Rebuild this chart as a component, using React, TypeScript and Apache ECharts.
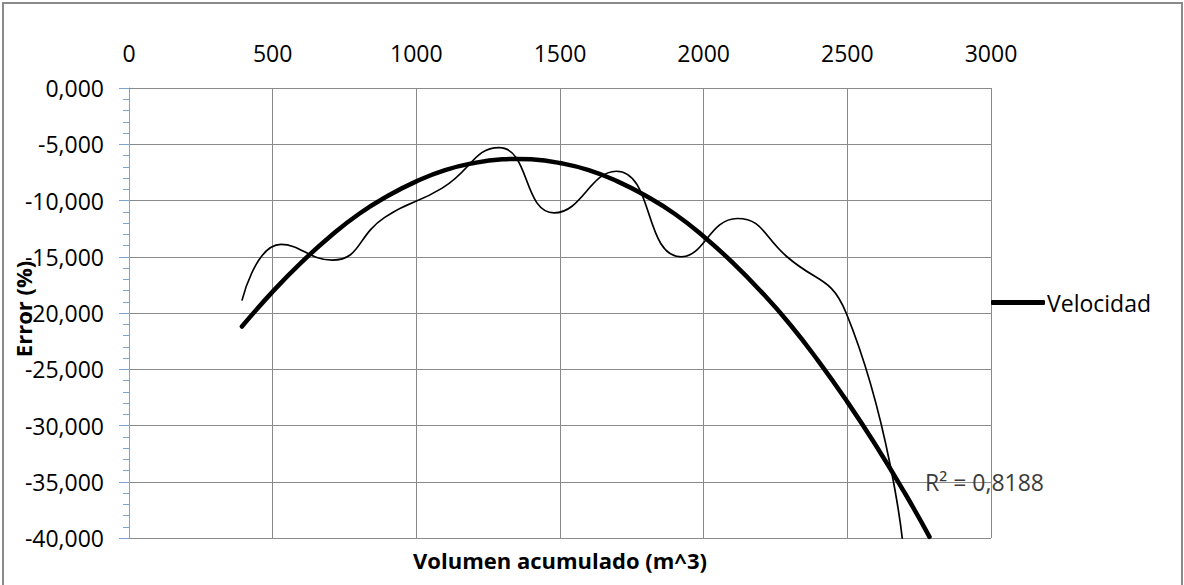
import React, { useEffect, useRef } from 'react';
import * as echarts from 'echarts';

// Measured series "Velocidad" (volumen acumulado m^3, error %)
const volumen = [393, 529, 707, 890, 1090, 1288, 1480, 1696, 1922, 2117, 2290, 2496, 2692];
const errorPct = [-18.9, -13.9, -15.3, -11.5, -8.9, -5.3, -11.1, -7.4, -15.0, -11.6, -15.0, -20.0, -40.2];

// Polynomial trend line
const trendVol = [393, 500, 600, 700, 800, 900, 1000, 1100, 1200, 1300, 1350, 1400, 1500, 1600, 1700, 1800, 1900, 2000, 2100, 2200, 2300, 2400, 2500, 2600, 2700, 2786];
const trendErr = [-21.2, -18.1, -15.5, -13.2, -11.2, -9.6, -8.3, -7.3, -6.67, -6.34, -6.3, -6.34, -6.67, -7.3, -8.3, -9.6, -11.2, -13.2, -15.5, -18.1, -21.0, -24.3, -27.9, -31.8, -36.0, -39.9];

const seriesName = 'Velocidad';
const r2Label = 'R² = 0,8188';
const xTitle = 'Volumen acumulado (m^3)';
const yTitle = 'Error (%)';

const FONT = "'Open Sans', sans-serif";

export default function App() {
  const ref = useRef<HTMLDivElement>(null);
  useEffect(() => {
    document.body.style.margin = '0';
    const chart = echarts.init(ref.current as HTMLDivElement, null, { renderer: 'svg' });
    const gray = '#8a8a8a';
    const blue = '#7ba3d6';
    chart.setOption({
      animation: false,
      backgroundColor: '#ffffff',
      textStyle: { fontFamily: FONT },
      grid: { left: 129, right: 193, top: 88, bottom: 47, containLabel: false },
      legend: {
        data: [{ name: seriesName, icon: 'roundRect' }],
        left: 991,
        top: 291,
        padding: 0,
        itemWidth: 54,
        itemHeight: 5,
        itemStyle: { color: '#000' },
        textStyle: { fontFamily: FONT, fontSize: 23, color: '#000', padding: [0, 0, 0, -3] },
      },
      xAxis: {
        type: 'value',
        position: 'top',
        min: 0,
        max: 3000,
        interval: 500,
        axisLine: { show: true, onZero: false, lineStyle: { color: gray, width: 1 } },
        axisTick: { show: false },
        axisLabel: {
          fontFamily: FONT,
          fontSize: 23,
          color: '#000',
          margin: 24,
          formatter: (v: number) => String(v),
        },
        splitLine: { show: true, lineStyle: { color: gray, width: 1 } },
      },
      yAxis: {
        type: 'value',
        min: -40,
        max: 0,
        interval: 5,
        axisLine: { show: true, onZero: false, lineStyle: { color: blue, width: 1 } },
        axisTick: { show: true, length: 10, lineStyle: { color: blue, width: 1 } },
        minorTick: { show: true, splitNumber: 5, length: 6, lineStyle: { color: blue, width: 1 } },
        axisLabel: {
          fontFamily: FONT,
          fontSize: 23,
          color: '#000',
          margin: 25,
          formatter: (v: number) => v.toFixed(3).replace('.', ','),
        },
        splitLine: { show: true, lineStyle: { color: gray, width: 1 } },
      },
      series: [
        {
          name: 'Polinómica (Velocidad)',
          type: 'line',
          smooth: true,
          symbol: 'none',
          data: trendVol.map((x, i) => [x, trendErr[i]]),
          lineStyle: { color: '#000', width: 4.5, cap: 'round' },
          itemStyle: { color: '#000' },
          z: 3,
        },
        {
          name: seriesName,
          type: 'line',
          smooth: true,
          symbol: 'none',
          data: volumen.map((x, i) => [x, errorPct[i]]),
          lineStyle: { color: '#000', width: 1.7 },
          itemStyle: { color: '#000' },
          z: 4,
        },
      ],
      graphic: [
        {
          type: 'rect',
          shape: { x: 3, y: 3, width: 1179, height: 600 },
          style: { fill: 'none', stroke: '#8a8a8a', lineWidth: 2 },
          silent: true,
        },
        {
          type: 'text',
          x: 560,
          y: 560,
          style: {
            text: xTitle,
            font: `bold 22px ${FONT}`,
            fill: '#000',
            align: 'center',
            verticalAlign: 'middle',
          },
        },
        {
          type: 'text',
          x: 23,
          y: 309,
          rotation: Math.PI / 2,
          style: {
            text: yTitle,
            font: `bold 22px ${FONT}`,
            fill: '#000',
            align: 'center',
            verticalAlign: 'middle',
          },
          z: 10,
        },
        {
          type: 'text',
          x: 925,
          y: 482,
          style: {
            text: r2Label,
            font: `23px ${FONT}`,
            fill: '#3c3c3c',
            align: 'left',
            verticalAlign: 'middle',
          },
          z: 10,
        },
      ],
    });
    return () => chart.dispose();
  }, []);
  return <div ref={ref} style={{ width: 1184, height: 585 }} />;
}
